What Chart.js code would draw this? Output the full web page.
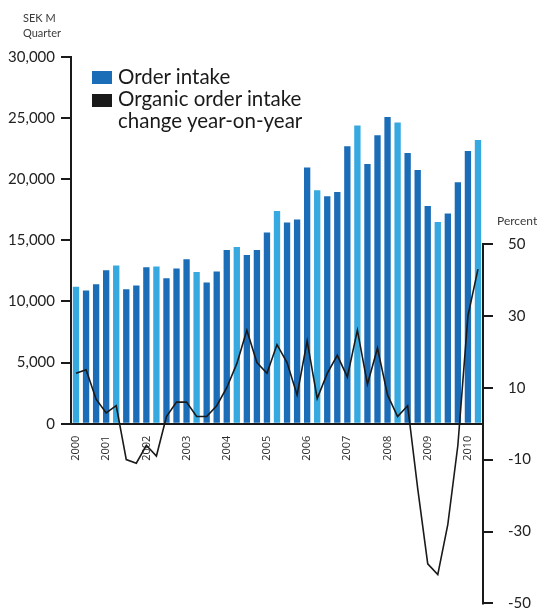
<!DOCTYPE html>
<html>
<head>
<meta charset="utf-8">
<script src="https://cdn.jsdelivr.net/npm/chart.js@4.4.1/dist/chart.umd.min.js"></script>
<style>
    html, body { margin: 0; padding: 0; background: #fff; overflow: hidden; }
    #wrap { position: relative; width: 542px; height: 609px; }
    .lbl { position: absolute; font-family: Lato, sans-serif; color: #3a3a3a; white-space: nowrap; }
    .small { font-size: 11px; line-height: 13px; }
    .leg { position: absolute; left: 118px; font-family: Lato, sans-serif; font-size: 20.5px; line-height: 22px; color: #1a1a1a; white-space: nowrap; }
    .sw { position: absolute; left: 92px; width: 20px; height: 13px; }
</style>
</head>
<body>
<div id="wrap">
    <canvas id="chart"></canvas>
    <div class="lbl small" style="left:23px;top:11px">SEK M</div>
    <div class="lbl small" style="left:23px;top:26px">Quarter</div>
    <div class="lbl" style="left:497px;top:214px;font-size:12px;line-height:14px">Percent</div>
    <div class="sw" style="top:71px;background:#1b6db7"></div>
    <div class="sw" style="top:94px;background:#1a1a1a"></div>
    <div class="leg" style="top:65px">Order intake</div>
    <div class="leg" style="top:87px">Organic order intake<br>change year-on-year</div>
</div>
<script>
// 季度标签：只在部分位置显示年份
const quarterLabels = ['2000', '', '', '2001', '', '', '', '2002', '', '', '', '2003', '', '', '', '2004',
    '', '', '', '2005', '', '', '', '2006', '', '', '', '2007', '', '', '', '2008', '', '', '', '2009',
    '', '', '', '2010', ''];

// 订单额（SEK M）
const orderIntake = [11200, 10900, 11400, 12550, 12950, 11000, 11300, 12800, 12850, 11900, 12700, 13450,
    12400, 11550, 12450, 14200, 14450, 13800, 14200, 15650, 17400, 16450, 16700, 20950, 19100, 18600,
    18950, 22700, 24400, 21250, 23600, 25100, 24650, 22150, 20750, 17800, 16500, 17200, 19750, 22300, 23200];

// 同比有机增长（%）
const organicChange = [14, 15, 6.8, 3, 5, -10, -11, -6, -9, 2, 6, 6, 2, 2, 5, 10, 16.7, 26, 17, 14,
    22, 17, 8, 23, 7, 14, 19, 13, 26, 11, 21, 8, 2, 5, -18, -39, -42, -28, -6, 30, 43];

const leftTicks = [0, 5000, 10000, 15000, 20000, 25000, 30000];
const rightTicks = [-50, -30, -10, 10, 30, 50];

const DARK = '#1b6db7';
const LIGHT = '#36a9e0';
const INK = '#1a1a1a';

const barColors = orderIntake.map((v, i) => (i % 4 === 0 ? LIGHT : DARK));

// 只画到刻度范围内的坐标轴线
const axisLines = {
    id: 'axisLines',
    afterDatasetsDraw(chart) {
        const { ctx, scales: { x, y, y1 } } = chart;
        ctx.save();
        ctx.strokeStyle = INK;
        ctx.lineWidth = 2;
        ctx.beginPath();
        ctx.moveTo(x.left, y.getPixelForValue(leftTicks[leftTicks.length - 1]) - 1);
        ctx.lineTo(x.left, y.getPixelForValue(0) + 1);
        ctx.moveTo(x.right, y1.getPixelForValue(rightTicks[rightTicks.length - 1]) - 1);
        ctx.lineTo(x.right, y1.getPixelForValue(rightTicks[0]) + 1);
        ctx.stroke();
        ctx.restore();
    }
};

const noPad = scale => {
    scale.paddingTop = 0;
    scale.paddingBottom = 0;
};

new Chart(document.getElementById('chart'), {
    data: {
        labels: quarterLabels,
        datasets: [
            {
                type: 'line',
                label: 'Organic order intake change year-on-year',
                data: organicChange,
                yAxisID: 'y1',
                borderColor: INK,
                borderWidth: 1.6,
                pointRadius: 0,
                tension: 0,
                order: 0
            },
            {
                type: 'bar',
                label: 'Order intake',
                data: orderIntake,
                yAxisID: 'y',
                backgroundColor: barColors,
                barPercentage: 0.63,
                categoryPercentage: 1,
                order: 1
            }
        ]
    },
    options: {
        responsive: true,
        maintainAspectRatio: false,
        animation: false,
        layout: { padding: { top: 57, bottom: 2, left: 0, right: 0 } },
        plugins: {
            legend: { display: false },
            tooltip: { enabled: false }
        },
        scales: {
            x: {
                position: { y: 0 },
                z: 1,
                offset: true,
                grid: { display: false },
                border: { display: true, color: INK, width: 2 },
                ticks: {
                    autoSkip: false,
                    minRotation: 90,
                    maxRotation: 90,
                    padding: 4,
                    color: '#2a2a2a',
                    font: { family: 'Open Sans', size: 11 }
                },
                afterFit: scale => {
                    scale.paddingLeft = 0;
                    scale.paddingRight = 0;
                }
            },
            y: {
                position: 'left',
                min: -15000,
                max: 30000,
                border: { display: false },
                grid: { drawOnChartArea: false, drawTicks: true, tickLength: 10, color: INK, lineWidth: 2 },
                ticks: {
                    padding: 6,
                    color: '#222',
                    font: { family: 'Lato', size: 15 },
                    callback: v => v.toLocaleString('en-US')
                },
                afterBuildTicks: scale => { scale.ticks = leftTicks.map(v => ({ value: v })); },
                afterFit: scale => { scale.width = 71; noPad(scale); }
            },
            y1: {
                position: 'right',
                min: -51,
                max: 102,
                border: { display: false },
                grid: { drawOnChartArea: false, drawTicks: true, tickLength: 10, color: INK, lineWidth: 2 },
                ticks: {
                    padding: 15,
                    color: '#222',
                    font: { family: 'Lato', size: 15 }
                },
                afterBuildTicks: scale => { scale.ticks = rightTicks.map(v => ({ value: v })); },
                afterFit: scale => { scale.width = 59; noPad(scale); }
            }
        }
    },
    plugins: [axisLines]
});
</script>
</body>
</html>
